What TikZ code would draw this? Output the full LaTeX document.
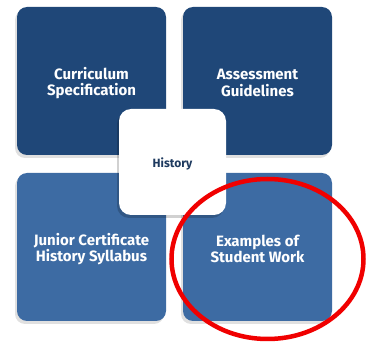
\documentclass[tikz,border=0pt]{standalone}
\usepackage{fontspec}
\setmainfont{Fira Sans}
\definecolor{darkb}{HTML}{1F4778}
\definecolor{lightb}{HTML}{3D6BA3}
\definecolor{navytxt}{HTML}{1E3A5F}
\definecolor{redc}{HTML}{F00000}
\begin{document}
\begin{tikzpicture}[x=1pt,y=-1pt,
  tile/.style={minimum width=149pt,minimum height=148pt,rounded corners=10pt,inner sep=0pt},
  tiletext/.style={text=white,font=\bfseries\fontsize{15}{16.5}\selectfont,align=center,inner sep=0pt},
  shadowed/.style={preaction={fill=black,opacity=0.12,transform canvas={xshift=-2pt,yshift=-3pt}}},
  centerbox/.style={minimum width=107pt,minimum height=106pt,rounded corners=12pt,fill=white,inner sep=0pt},
  centertext/.style={text=navytxt,font=\bfseries\fontsize{12}{14}\selectfont,inner sep=0pt}]
\useasboundingbox (0,0) rectangle (373,342);
\node[tile,fill=darkb,shadowed] (cs) at (91.5,81) {};
\node[tile,fill=darkb,shadowed] (ag) at (257.5,81) {};
\node[tile,fill=lightb,shadowed] (jc) at (91.5,247) {};
\node[tile,fill=lightb,shadowed] (es) at (257.5,247) {};
\node[tiletext] (cst) at (91.5,83) {Curriculum\\Specification};
\node[tiletext] (agt) at (257.5,83) {Assessment\\Guidelines};
\node[tiletext] (jct) at (91.5,249) {Junior Certificate\\History Syllabus};
\node[tiletext] (est) at (257.5,249) {Examples of\\Student Work};
\node[centerbox,preaction={fill=black,opacity=0.18,transform canvas={xshift=-2pt,yshift=-3pt}}] (hi) at (172.5,162) {};
\node[centertext] (hit) at (172.5,163.5) {History};
\draw[redc,line width=4.5pt] (267.5,259) ellipse [x radius=96pt,y radius=80pt];
\end{tikzpicture}
\end{document}
